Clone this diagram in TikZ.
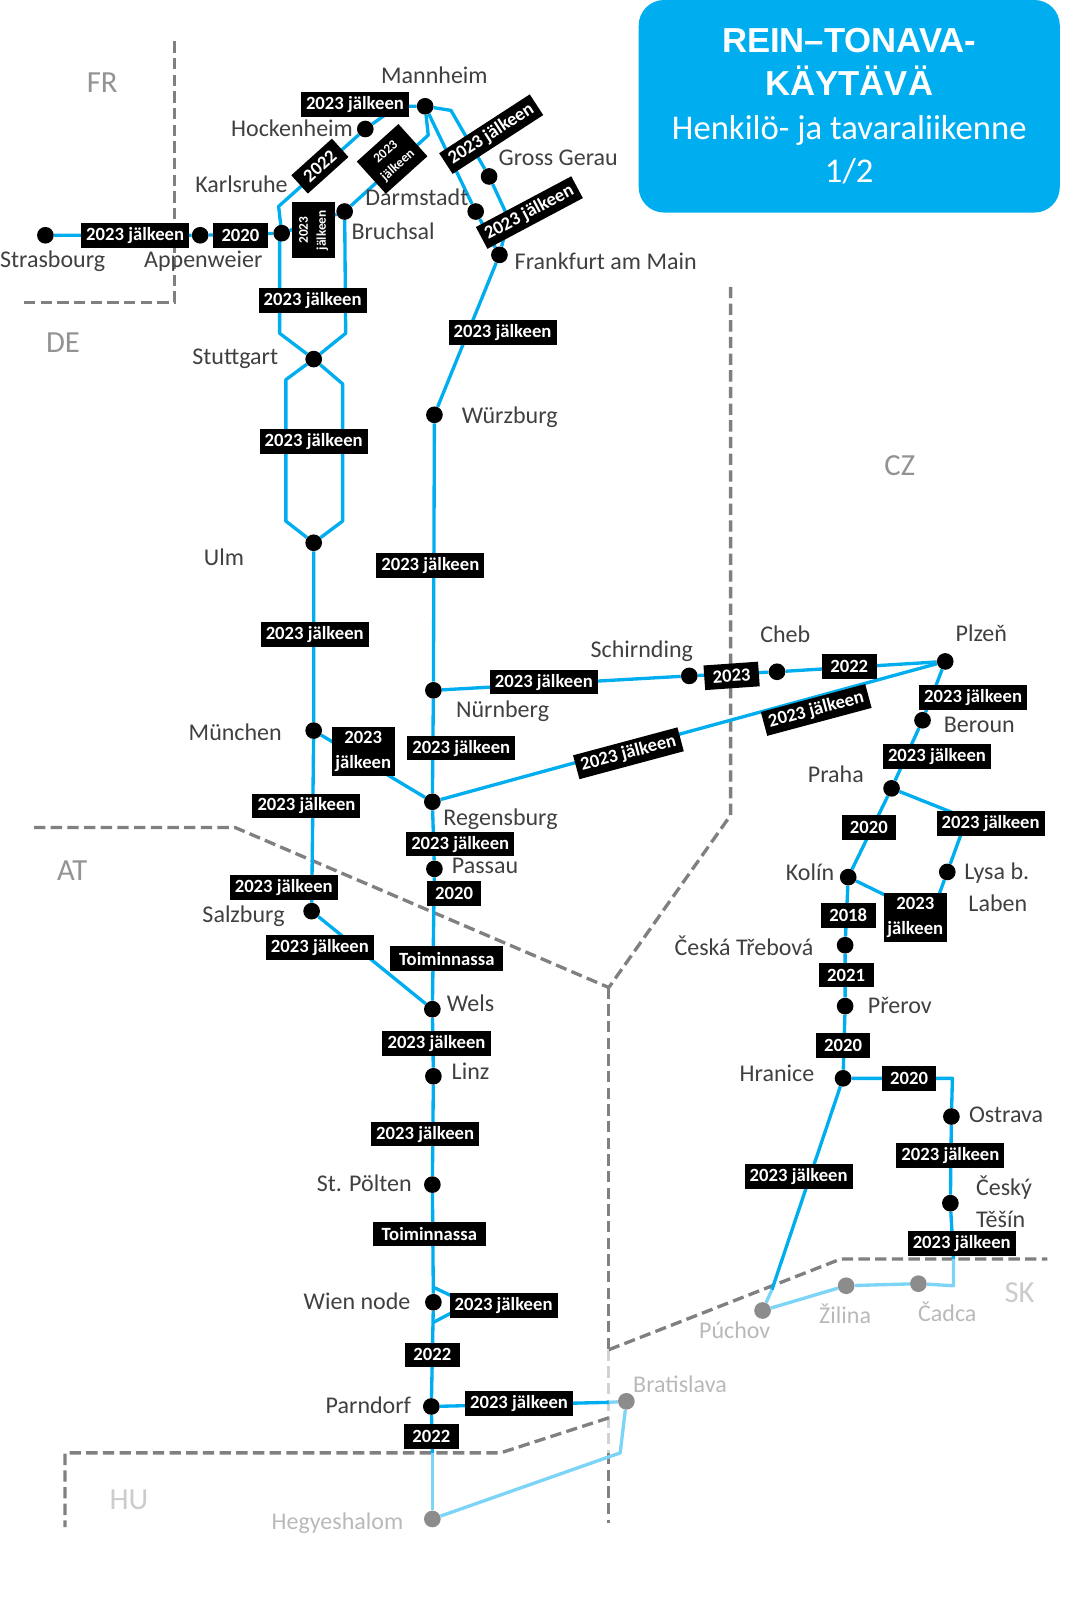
\documentclass[tikz,border=0pt]{standalone}
\usepackage{fontspec}
\setmainfont{Carlito}
\newfontfamily\headfont{Liberation Sans}
\usepackage{tikz}
\usetikzlibrary{backgrounds}
\definecolor{railblue}{HTML}{00AEEF}
\definecolor{raillight}{HTML}{7CD5F6}
\definecolor{borderdash}{HTML}{808080}
\definecolor{citytext}{HTML}{404040}
\tikzset{
  station/.style={circle,fill=black,inner sep=0pt,minimum size=12.5pt},
  farstation/.style={circle,fill=gray!90,inner sep=0pt,minimum size=12.5pt},
  cityname/.style={text=citytext,font=\fontsize{18}{24}\selectfont,align=left,inner sep=0pt,text depth=0pt},
  farname/.style={text=gray!55,font=\fontsize{18}{24}\selectfont,inner sep=0pt,text depth=0pt},
  yearbox/.style={
    fill=black,
    text=white,
    align=center,
    font=\bfseries\fontsize{14}{18.5}\selectfont,
    inner xsep=1pt,
    inner ysep=1pt,
    minimum height=18.5pt,
    minimum width=81pt
  },
  runningbox/.style={yearbox,minimum width=85pt},
  shortyear/.style={yearbox,minimum width=41pt},
  twolineyear/.style={yearbox,minimum width=47pt,minimum height=37pt},
  smallyear/.style={
    yearbox,
    font=\bfseries\fontsize{10}{13.5}\selectfont,
    minimum width=42pt,
    minimum height=32.5pt
  },
  railline/.style={draw=railblue,line width=2.5pt,line join=round},
  farline/.style={draw=raillight,line width=2.5pt,line join=round},
  borderline/.style={draw=borderdash,line width=2.5pt,dash pattern=on 8.5pt off 4pt},
  fadeborder/.style={draw=gray!35,line width=2.5pt,dash pattern=on 8.5pt off 4pt},
  country/.style={text=gray!85,font=\fontsize{23}{24}\selectfont,inner sep=0pt},
  farcountry/.style={text=gray!40,font=\fontsize{23}{24}\selectfont,inner sep=0pt},
  titlebox/.style={
    fill=railblue,
    text=white,
    rounded corners=19pt,
    align=center,
    font=\fontsize{26}{32.5}\selectfont,
    minimum width=315.7pt,
    minimum height=159.4pt,
    inner sep=0pt
  }
}
\newcommand{\headline}{\headfont\bfseries\fontsize{26}{32.5}\selectfont}
\newcommand{\subline}{\fontsize{26}{32.5}\selectfont}
\begin{document}
\begin{tikzpicture}[x=0.7737pt,y=-0.7737pt]
  \useasboundingbox (0,0) rectangle (1044,1568);

  \node[titlebox] (title) at (823,103) {%
    \headline REIN–TONAVA-\\
    \headline KÄYTÄVÄ\\
    \subline Henkilö- ja tavaraliikenne\\
    \subline 1/2};

  \node[country] (fr) at (99,80) {FR};
  \node[country] (de) at (61,332) {DE};
  \node[country] (at) at (70,844) {AT};
  \node[country] (cz) at (872,451) {CZ};
  \node[farcountry] (sk) at (988,1253) {SK};
  \node[farcountry] (hu) at (125,1453) {HU};

  \node[station] (strasbourg) at (44,228) {};
  \node[station] (appenweier) at (194,228) {};
  \node[station] (offenburg) at (273,226) {};
  \node[station] (hockenheim) at (354,125) {};
  \node[station] (mannheim) at (412,103) {};
  \node[station] (bruchsal) at (334,205) {};
  \node[station] (darmstadt) at (461,205) {};
  \node[station] (grossgerau) at (474,171) {};
  \node[station] (frankfurt) at (484,247) {};
  \node[station] (stuttgart) at (304,348) {};
  \node[station] (ulm) at (304,526) {};
  \node[station] (munchen) at (304,708) {};
  \node[station] (salzburg) at (302,883) {};
  \node[station] (wurzburg) at (421,402) {};
  \node[station] (nurnberg) at (420,669) {};
  \node[station] (regensburg) at (419,777) {};
  \node[station] (passau) at (421,842) {};
  \node[station] (wels) at (419,978) {};
  \node[station] (linz) at (420,1043) {};
  \node[station] (stpolten) at (419,1148) {};
  \node[station] (wien) at (420,1262) {};
  \node[station] (parndorf) at (418,1363) {};
  \node[station] (schirnding) at (668,655) {};
  \node[station] (cheb) at (753,651) {};
  \node[station] (plzen) at (916,641) {};
  \node[station] (beroun) at (894,698) {};
  \node[station] (praha) at (864,764) {};
  \node[station] (kolin) at (822,850) {};
  \node[station] (lysa) at (918,845) {};
  \node[station] (trebova) at (819,916) {};
  \node[station] (prerov) at (819,975) {};
  \node[station] (hranice) at (817,1045) {};
  \node[station] (ostrava) at (922,1082) {};
  \node[station] (tesin) at (921,1166) {};
  \node[farstation] (hegyeshalom) at (419,1472) {};
  \node[farstation] (bratislava) at (607,1358) {};
  \node[farstation] (puchov) at (739,1270) {};
  \node[farstation] (zilina) at (820,1246) {};
  \node[farstation] (cadca) at (890,1244) {};

  \coordinate (frtop) at (169,40);
  \coordinate (frcorner) at (169,293);
  \coordinate (frend) at (22,293);
  \coordinate (atstart) at (33,802);
  \coordinate (atbend) at (228,802);
  \coordinate (triple) at (590,957);
  \coordinate (cztop) at (708,278);
  \coordinate (czbend) at (708,790);
  \coordinate (skjoin) at (590,1308);
  \coordinate (skbend) at (815,1220);
  \coordinate (skend) at (1015,1220);
  \coordinate (fadeend) at (590,1408);
  \coordinate (southend) at (590,1476);
  \coordinate (hujoin) at (590,1374);
  \coordinate (hubend) at (485,1408);
  \coordinate (hucorner) at (63,1408);
  \coordinate (huend) at (63,1480);

  \coordinate (karlsbend) at (270,200);
  \coordinate (mannbend) at (385,103);
  \coordinate (westlow) at (271,323);
  \coordinate (eastlow) at (335,323);
  \coordinate (bruchbend) at (415,131);
  \coordinate (gerautop) at (437,107);
  \coordinate (geraulow) at (493,212);
  \coordinate (ulmwesttop) at (277,368);
  \coordinate (ulmwestlow) at (277,505);
  \coordinate (ulmeasttop) at (332,372);
  \coordinate (ulmeastlow) at (332,505);
  \coordinate (wientop) at (419,1247);
  \coordinate (wienright) at (438,1256);
  \coordinate (wienrightlow) at (438,1272);
  \coordinate (wienlow) at (419,1282);
  \coordinate (hufade) at (419,1408);
  \coordinate (brabend) at (601,1408);
  \coordinate (braborder) at (590,1359);
  \coordinate (lysabend) at (937,793);
  \coordinate (kolinbend) at (902,889);
  \coordinate (ostrabend) at (923,1045);
  \coordinate (skfade) at (748,1250);
  \coordinate (tesinfade) at (924,1220);
  \coordinate (cadcabend) at (924,1246);

  \begin{scope}[on background layer]
    \draw[borderline] (frtop) -- (frcorner) -- (frend);
    \draw[borderline] (atstart) -- (atbend) -- (triple);
    \draw[borderline] (cztop) -- (czbend) -- (triple);
    \draw[borderline] (triple) -- (skjoin);
    \draw[fadeborder] (skjoin) -- (fadeend);
    \draw[borderline] (fadeend) -- (southend);
    \draw[borderline] (skjoin) -- (skbend) -- (skend);
    \draw[borderline] (hujoin) -- (hubend) -- (hucorner) -- (huend);

    \draw[railline] (strasbourg) -- (appenweier) -- (offenburg);
    \draw[railline] (offenburg.center) -- (karlsbend) -- (hockenheim) -- (mannbend) -- (mannheim);
    \draw[railline] (offenburg.center) -- (westlow |- offenburg) -- (westlow) -- (stuttgart);
    \draw[railline] (offenburg) -- (bruchsal);
    \draw[railline] (bruchsal) -- (eastlow) -- (stuttgart);
    \draw[railline] (bruchsal) -- (bruchbend) -- (mannheim);
    \draw[railline] (mannheim) -- (gerautop) -- (grossgerau) -- (geraulow) -- (frankfurt);
    \draw[railline] (mannheim) -- (darmstadt) -- (frankfurt);
    \draw[railline] (stuttgart) -- (ulmwesttop) -- (ulmwestlow) -- (ulm);
    \draw[railline] (stuttgart) -- (ulmeasttop) -- (ulmeastlow) -- (ulm);
    \draw[railline] (ulm) -- (munchen) -- (salzburg) -- (wels);
    \draw[railline] (munchen) -- (regensburg);
    \draw[railline] (frankfurt) -- (wurzburg) -- (nurnberg) -- (regensburg) -- (passau) -- (wels) -- (linz) -- (stpolten) -- (wien) -- (parndorf) -- (hufade);
    \draw[railline] (wientop) -- (wienright) -- (wienrightlow) -- (wienlow);
    \draw[railline] (parndorf) -- (braborder);
    \draw[railline] (nurnberg) -- (schirnding) -- (cheb) -- (plzen);
    \draw[railline] (regensburg) -- (plzen);
    \draw[railline] (plzen) -- (beroun) -- (praha) -- (kolin) -- (trebova) -- (prerov) -- (hranice);
    \draw[railline] (praha) -- (lysabend) -- (lysa) -- (kolinbend) -- (kolin);
    \draw[railline] (hranice) -- (ostrabend) -- (ostrava) -- (tesin) -- (tesinfade);
    \draw[railline] (hranice) -- (skfade);

    \draw[farline] (hufade) -- (hegyeshalom);
    \draw[farline] (hegyeshalom) -- (brabend) -- (bratislava);
    \draw[farline] (braborder) -- (bratislava);
    \draw[farline] (skfade) -- (puchov);
    \draw[farline] (puchov) -- (zilina) -- (cadca) -- (cadcabend) -- (tesinfade);
  \end{scope}

  \node[yearbox] (y1) at (131,228) {2023 jälkeen};
  \node[shortyear] (y2) at (233,228) {2020};
  \node[yearbox] (y3) at (344,101) {2023 jälkeen};
  \node[shortyear,rotate=42] (y4) at (310,161) {2022};
  \node[smallyear,rotate=42] (y5) at (380,154) {2023\\jälkeen};
  \node[smallyear,rotate=90] (y6) at (304,223) {2023\\jälkeen};
  \node[yearbox,rotate=33] (y7) at (476,130) {2023 jälkeen};
  \node[yearbox,rotate=28] (y8) at (513,206) {2023 jälkeen};
  \node[yearbox] (y9) at (303,291) {2023 jälkeen};
  \node[yearbox] (y10) at (487,322) {2023 jälkeen};
  \node[yearbox] (y11) at (304,428) {2023 jälkeen};
  \node[yearbox] (y12) at (417,548) {2023 jälkeen};
  \node[yearbox] (y13) at (305,615) {2023 jälkeen};
  \node[yearbox] (y14) at (527,661) {2023 jälkeen};
  \node[shortyear,rotate=4] (y15) at (709,655) {2023};
  \node[shortyear] (y16) at (823,646) {2022};
  \node[yearbox] (y17) at (943,676) {2023 jälkeen};
  \node[yearbox] (y18) at (908,733) {2023 jälkeen};
  \node[yearbox,rotate=15] (y19) at (791,688) {2023 jälkeen};
  \node[yearbox,rotate=15] (y20) at (609,730) {2023 jälkeen};
  \node[twolineyear] (y21) at (352,728) {2023\\jälkeen};
  \node[yearbox] (y22) at (447,725) {2023 jälkeen};
  \node[yearbox] (y23) at (297,781) {2023 jälkeen};
  \node[yearbox] (y24) at (446,818) {2023 jälkeen};
  \node[shortyear] (y25) at (440,866) {2020};
  \node[yearbox] (y26) at (275,860) {2023 jälkeen};
  \node[yearbox] (y27) at (310,918) {2023 jälkeen};
  \node[runningbox] (y28) at (433,929) {Toiminnassa};
  \node[yearbox] (y29) at (423,1011) {2023 jälkeen};
  \node[yearbox] (y30) at (412,1099) {2023 jälkeen};
  \node[runningbox] (y31) at (416,1196) {Toiminnassa};
  \node[yearbox] (y32) at (488,1265) {2023 jälkeen};
  \node[shortyear] (y33) at (419,1313) {2022};
  \node[yearbox] (y34) at (503,1360) {2023 jälkeen};
  \node[shortyear] (y35) at (418,1392) {2022};
  \node[shortyear] (y36) at (842,802) {2020};
  \node[yearbox] (y37) at (960,798) {2023 jälkeen};
  \node[twolineyear] (y38) at (887,889) {2023\\jälkeen};
  \node[shortyear] (y39) at (822,887) {2018};
  \node[shortyear] (y40) at (820,945) {2021};
  \node[shortyear] (y41) at (817,1013) {2020};
  \node[shortyear] (y42) at (881,1045) {2020};
  \node[yearbox] (y43) at (774,1140) {2023 jälkeen};
  \node[yearbox] (y44) at (921,1120) {2023 jälkeen};
  \node[yearbox] (y45) at (932,1205) {2023 jälkeen};

  \node[cityname] (strasbourgname) at (51,251) {Strasbourg};
  \node[cityname] (appenweiername) at (197,251) {Appenweier};
  \node[cityname] (karlsruhename) at (234,178) {Karlsruhe};
  \node[cityname] (hockenheimname) at (283,124) {Hockenheim};
  \node[cityname] (mannheimname) at (421,73) {Mannheim};
  \node[cityname] (bruchsalname) at (381,224) {Bruchsal};
  \node[cityname] (darmstadtname) at (404,191) {Darmstadt};
  \node[cityname] (grossgeraname) at (541,153) {Gross Gerau};
  \node[cityname] (frankfurtname) at (587,253) {Frankfurt am Main};
  \node[cityname] (stuttgartname) at (228,346) {Stuttgart};
  \node[cityname] (ulmname) at (217,540) {Ulm};
  \node[cityname] (wurzburgname) at (494,402) {Würzburg};
  \node[cityname] (munchenname) at (228,710) {München};
  \node[cityname] (nurnbergname) at (487,687) {Nürnberg};
  \node[cityname] (regensburgname) at (485,792) {Regensburg};
  \node[cityname] (passauname) at (470,839) {Passau};
  \node[cityname] (salzburgname) at (236,886) {Salzburg};
  \node[cityname] (welsname) at (456,972) {Wels};
  \node[cityname] (linzname) at (456,1038) {Linz};
  \node[cityname] (stpoltenname) at (353,1147) {St. Pölten};
  \node[cityname] (wienname) at (346,1261) {Wien node};
  \node[cityname] (parndorfname) at (357,1362) {Parndorf};
  \node[cityname] (schirndingname) at (622,629) {Schirnding};
  \node[cityname] (chebname) at (761,615) {Cheb};
  \node[cityname] (plzenname) at (951,614) {Plzeň};
  \node[cityname] (berounname) at (949,702) {Beroun};
  \node[cityname] (prahaname) at (810,750) {Praha};
  \node[cityname] (kolinname) at (785,845) {Kolín};
  \node[cityname] (lysaname) at (966,860) {Lysa b.\\\hspace*{3pt}Laben};
  \node[cityname] (trebovaname) at (721,916) {Česká Třebová};
  \node[cityname] (prerovname) at (872,974) {Přerov};
  \node[cityname] (hranicename) at (753,1040) {Hranice};
  \node[cityname] (ostravaname) at (975,1080) {Ostrava};
  \node[cityname] (tesinname) at (973,1165) {Český\\Těšín};
  \node[farname] (hegyeshalomname) at (327,1474) {Hegyeshalom};
  \node[farname] (bratislavaname) at (659,1341) {Bratislava};
  \node[farname] (puchovname) at (712,1289) {Púchov};
  \node[farname] (zilinaname) at (819,1273) {Žilina};
  \node[farname] (cadcaname) at (918,1271) {Čadca};
\end{tikzpicture}
\end{document}
